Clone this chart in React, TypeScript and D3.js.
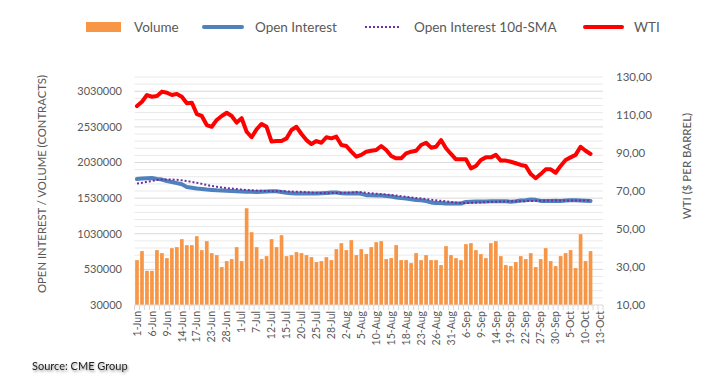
import React from 'react';
import * as d3 from 'd3';

// trading days, 1-Jun to 13-Oct
const dates = [
  '1-Jun', '2-Jun', '3-Jun', '6-Jun', '7-Jun', '8-Jun', '9-Jun', '10-Jun', '13-Jun', '14-Jun',
  '15-Jun', '16-Jun', '17-Jun', '21-Jun', '22-Jun', '23-Jun', '24-Jun', '27-Jun', '28-Jun', '29-Jun',
  '30-Jun', '1-Jul', '5-Jul', '6-Jul', '7-Jul', '8-Jul', '11-Jul', '12-Jul', '13-Jul', '14-Jul',
  '15-Jul', '18-Jul', '19-Jul', '20-Jul', '21-Jul', '22-Jul', '25-Jul', '26-Jul', '27-Jul', '28-Jul',
  '29-Jul', '1-Aug', '2-Aug', '3-Aug', '4-Aug', '5-Aug', '8-Aug', '9-Aug', '10-Aug', '11-Aug',
  '12-Aug', '15-Aug', '16-Aug', '17-Aug', '18-Aug', '19-Aug', '22-Aug', '23-Aug', '24-Aug', '25-Aug',
  '26-Aug', '29-Aug', '30-Aug', '31-Aug', '1-Sep', '2-Sep', '6-Sep', '7-Sep', '8-Sep', '9-Sep',
  '12-Sep', '13-Sep', '14-Sep', '15-Sep', '16-Sep', '19-Sep', '20-Sep', '21-Sep', '22-Sep', '23-Sep',
  '26-Sep', '27-Sep', '28-Sep', '29-Sep', '30-Sep', '3-Oct', '4-Oct', '5-Oct', '6-Oct', '7-Oct',
  '10-Oct', '11-Oct', '12-Oct', '13-Oct',
];

const volume = [
  660000, 786000, 510000, 510000, 800000, 758000, 688000, 828000, 842000, 954000,
  870000, 870000, 996000, 800000, 926000, 758000, 730000, 562000, 646000, 674000,
  842000, 646000, 1388000, 1052000, 842000, 674000, 716000, 954000, 842000, 1010000,
  716000, 730000, 772000, 758000, 730000, 702000, 632000, 646000, 702000, 660000,
  814000, 898000, 800000, 940000, 730000, 814000, 744000, 842000, 912000, 926000,
  674000, 688000, 870000, 660000, 660000, 618000, 758000, 660000, 730000, 660000,
  660000, 590000, 856000, 730000, 688000, 660000, 884000, 898000, 800000, 744000,
  688000, 898000, 926000, 716000, 590000, 576000, 632000, 716000, 674000, 758000,
  562000, 674000, 828000, 646000, 576000, 716000, 758000, 800000, 548000, 1024000,
  646000, 786000,
];

const openInterest = [
  1799000, 1805000, 1810000, 1813000, 1800000, 1790000, 1770000, 1757000, 1740000, 1724000,
  1687000, 1675000, 1664000, 1657000, 1650000, 1645000, 1640000, 1638000, 1635000, 1630000,
  1626000, 1624000, 1620000, 1618000, 1617000, 1620000, 1624000, 1626000, 1626000, 1615000,
  1605000, 1598000, 1594000, 1594000, 1594000, 1594000, 1594000, 1598000, 1603000, 1608000,
  1608000, 1600000, 1596000, 1594000, 1598000, 1590000, 1572000, 1570000, 1568000, 1566000,
  1560000, 1552000, 1540000, 1530000, 1524000, 1515000, 1505000, 1500000, 1488000, 1470000,
  1463000, 1460000, 1456000, 1454000, 1454000, 1455000, 1477000, 1480000, 1482000, 1482000,
  1484000, 1486000, 1486000, 1486000, 1486000, 1480000, 1486000, 1496000, 1500000, 1510000,
  1506000, 1491000, 1490000, 1490000, 1492000, 1491000, 1495000, 1500000, 1500000, 1498000,
  1494000, 1491000,
];

const oiSma = [
  1734000, 1745000, 1760000, 1770000, 1785000, 1790000, 1790000, 1790000, 1788000, 1780000,
  1770000, 1757000, 1745000, 1730000, 1715000, 1700000, 1690000, 1680000, 1672000, 1664000,
  1657000, 1650000, 1645000, 1640000, 1636000, 1632000, 1630000, 1628000, 1627000, 1626000,
  1625000, 1622000, 1620000, 1617000, 1612000, 1608000, 1605000, 1602000, 1600000, 1600000,
  1601000, 1603000, 1606000, 1610000, 1615000, 1612000, 1605000, 1598000, 1592000, 1586000,
  1580000, 1574000, 1566000, 1558000, 1548000, 1540000, 1532000, 1524000, 1515000, 1506000,
  1500000, 1492000, 1484000, 1476000, 1468000, 1463000, 1462000, 1464000, 1466000, 1470000,
  1474000, 1477000, 1480000, 1482000, 1484000, 1485000, 1486000, 1487000, 1488000, 1490000,
  1492000, 1494000, 1495000, 1496000, 1497000, 1497000, 1496000, 1495000, 1495000, 1496000,
  1496000, 1496000,
];

const wti = [
  114.7, 117.0, 120.5, 119.6, 120.0, 122.3, 121.7, 120.5, 121.1, 119.6,
  116.2, 116.5, 110.5, 109.5, 104.7, 103.8, 107.4, 109.5, 111.2, 109.5,
  106.0, 108.3, 101.2, 98.3, 102.5, 105.3, 103.8, 96.0, 96.3, 96.3,
  97.7, 102.1, 103.8, 100.0, 96.8, 94.7, 96.3, 95.4, 98.3, 97.7,
  98.6, 94.2, 93.7, 90.7, 88.1, 89.0, 90.7, 91.2, 91.6, 93.7,
  91.6, 88.4, 87.2, 87.2, 89.8, 90.7, 91.2, 94.2, 95.4, 92.8,
  93.3, 96.8, 92.5, 89.5, 86.7, 86.7, 86.7, 81.9, 83.2, 86.3,
  87.7, 87.7, 89.0, 86.0, 86.0, 85.4, 84.6, 83.7, 83.2, 78.9,
  76.7, 78.9, 81.4, 81.4, 79.6, 83.2, 86.3, 87.7, 89.0, 93.3,
  91.2, 89.5,
];

const leftTicks = [30000, 530000, 1030000, 1530000, 2030000, 2530000, 3030000];
const rightTicks = [10, 30, 50, 70, 90, 110, 130];
const rightTickLabels = ['10,00', '30,00', '50,00', '70,00', '90,00', '110,00', '130,00'];

const legendItems = ['Volume', 'Open Interest', 'Open Interest 10d-SMA', 'WTI'];

const FONT = "Lato, 'Open Sans', sans-serif";
const TEXT = '#595959';

export default function App() {
  const left = 134.5;
  const right = 603;
  const top = 77;
  const bottom = 305;

  const x = d3.scaleBand<string>().domain(dates).range([left, right]);
  const bw = x.bandwidth();
  const cx = (i: number) => (x(dates[i]) as number) + bw / 2;
  const yL = d3.scaleLinear().domain([30000, 3230000]).range([bottom, top]);
  const yR = d3.scaleLinear().domain([10, 130]).range([bottom, top]);

  const grid = d3.range(130000, 3230001, 100000);

  const lineL = d3.line<number>().x((_, i) => cx(i)).y((d) => yL(d));
  const lineR = d3.line<number>().x((_, i) => cx(i)).y((d) => yR(d));

  const legendX = [86, 204, 365, 585];

  return (
    <svg width={715} height={389} style={{ position: 'absolute', left: 0, top: 0 }} fontFamily={FONT}>
      <defs>
        <filter id="shadow" x="-10%" y="-50%" width="120%" height="200%">
          <feDropShadow dx="1" dy="1.5" stdDeviation="1.2" floodColor="#000" floodOpacity="0.45" />
        </filter>
      </defs>
      <rect width={715} height={389} fill="#fff" />

      {/* legend */}
      <g fontSize={13.5} fill={TEXT}>
        <rect x={legendX[0]} y={22} width={35} height={10} fill="#F79646" />
        <text x={legendX[0] + 48} y={27} dy="0.35em">{legendItems[0]}</text>
        <line x1={legendX[1]} x2={legendX[1] + 38} y1={27} y2={27} stroke="#4F81BD" strokeWidth={4} strokeLinecap="round" />
        <text x={legendX[1] + 51} y={27} dy="0.35em">{legendItems[1]}</text>
        <line x1={legendX[2]} x2={legendX[2] + 36} y1={27} y2={27} stroke="#7030A0" strokeWidth={2} strokeDasharray="2,2" />
        <text x={legendX[2] + 49} y={27} dy="0.35em">{legendItems[2]}</text>
        <line x1={legendX[3]} x2={legendX[3] + 37} y1={27} y2={27} stroke="#FF0000" strokeWidth={4} strokeLinecap="round" />
        <text x={legendX[3] + 49} y={27} dy="0.35em">{legendItems[3]}</text>
      </g>

      {/* gridlines */}
      {grid.map((g) => (
        <line key={g} x1={left} x2={right} y1={yL(g)} y2={yL(g)}
          stroke={(g - 30000) % 500000 === 0 ? '#d9d9d9' : '#e9e9e9'} strokeWidth={1} />
      ))}

      {/* volume bars */}
      {volume.map((v, i) => (
        <rect key={i} x={cx(i) - bw * 0.37} width={bw * 0.74} y={yL(v)} height={bottom - yL(v)} fill="#F79646" />
      ))}

      {/* category axis */}
      <line x1={left} x2={right} y1={bottom} y2={bottom} stroke="#d9d9d9" />
      {dates.map((d) => (
        <line key={d} x1={x(d) as number} x2={x(d) as number} y1={bottom} y2={bottom + 5} stroke="#d9d9d9" />
      ))}
      <line x1={right} x2={right} y1={bottom} y2={bottom + 5} stroke="#d9d9d9" />
      <g fontSize={10.5} fill={TEXT}>
        {dates.map((d, i) =>
          i % 3 === 0 ? (
            <text key={d} transform={`translate(${cx(i)},${bottom + 6}) rotate(-90)`} textAnchor="end" dy="0.35em">{d}</text>
          ) : null,
        )}
      </g>

      {/* lines */}
      <path d={lineL(openInterest) as string} fill="none" stroke="#4F81BD" strokeWidth={4} strokeLinejoin="round" strokeLinecap="round" />
      <path d={lineL(oiSma) as string} fill="none" stroke="#7030A0" strokeWidth={2} strokeDasharray="2,2" />
      <path d={lineR(wti) as string} fill="none" stroke="#FF0000" strokeWidth={4} strokeLinejoin="round" strokeLinecap="round" />

      {/* left axis */}
      <g fontSize={11} fill={TEXT}>
        {leftTicks.map((t) => (
          <text key={t} x={122} y={yL(t)} dy="0.35em" textAnchor="end">{t}</text>
        ))}
      </g>
      <text transform="translate(42,184) rotate(-90)" textAnchor="middle" dy="0.35em" fontSize={11.3} fill={TEXT}>
        OPEN INTEREST / VOLUME (CONTRACTS)
      </text>

      {/* right axis */}
      <g fontSize={11.5} fill={TEXT}>
        {rightTicks.map((t, i) => (
          <text key={t} x={616} y={yR(t)} dy="0.35em">{rightTickLabels[i]}</text>
        ))}
      </g>
      <text transform="translate(687,166) rotate(-90)" textAnchor="middle" dy="0.35em" fontSize={11.5} fill={TEXT}>
        WTI ($ PER BARREL)
      </text>

      <text x={32} y={366} dy="0.35em" fontSize={11} fill="#222" filter="url(#shadow)">Source: CME Group</text>
    </svg>
  );
}
